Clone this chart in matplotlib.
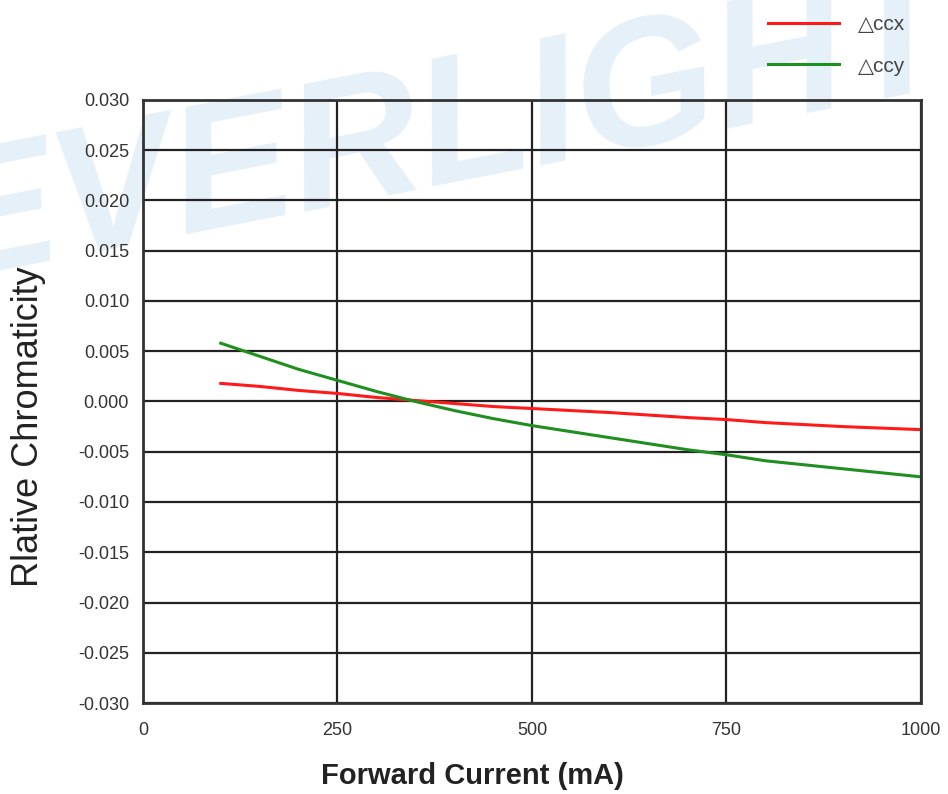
import numpy as np
import matplotlib.pyplot as plt

plt.rcParams["font.family"] = ["Liberation Sans", "DejaVu Sans"]

# forward current (mA)
current = [100, 150, 200, 250, 300, 350, 400, 450, 500, 600, 700, 750, 800, 900, 1000]
# relative chromaticity shifts
d_ccx = [0.0018, 0.0015, 0.0011, 0.0008, 0.0004, 0.0001, -0.0002, -0.0005, -0.0007,
         -0.0011, -0.0016, -0.0018, -0.0021, -0.0025, -0.0028]
d_ccy = [0.0058, 0.0045, 0.0032, 0.0021, 0.0010, 0.0000, -0.0009, -0.0017, -0.0024,
         -0.0036, -0.0048, -0.0053, -0.0059, -0.0067, -0.0075]

xticks = [0, 250, 500, 750, 1000]
yticks = np.arange(-0.030, 0.0301, 0.005)

fig = plt.figure(figsize=(9.48, 7.94), dpi=100)
ax = fig.add_axes([0.1508, 0.1146, 0.8207, 0.7595])
ax.patch.set_facecolor("none")

# watermark behind everything
fig.text(0.47, 0.83, "EVERLIGHT", fontsize=130, fontweight="bold", style="italic",
         color="#e6f0f9", rotation=11, ha="center", va="center", zorder=-1)

ax.plot(current, d_ccx, color="#ff1a1a", lw=2.2, label="\u25b3ccx")
ax.plot(current, d_ccy, color="#1f8f1f", lw=2.2, label="\u25b3ccy")

ax.set_xlim(0, 1000)
ax.set_ylim(-0.030, 0.030)
ax.set_xticks(xticks)
ax.set_yticks(yticks)
ax.set_xticklabels([str(t) for t in xticks])
ax.set_yticklabels(["%.3f" % v if abs(v) > 1e-9 else "0.000" for v in yticks])
ax.grid(True, color="#222222", lw=1.6)
ax.set_axisbelow(True)
ax.tick_params(length=0, labelsize=13, colors="#333333", pad=10)
ax.tick_params(axis="x", pad=14)
for s in ax.spines.values():
    s.set_color("#333333")
    s.set_linewidth(2)

ax.set_xlabel("Forward Current (mA)", fontsize=21, fontweight="bold", color="#222222")
ax.xaxis.set_label_coords(0.423, -0.098)
ax.set_ylabel("Rlative Chromaticity", fontsize=26, color="#222222")
ax.yaxis.set_label_coords(-0.125, 0.458)

ax.legend(loc="upper right", bbox_to_anchor=(0.99, 1.155), frameon=False, fontsize=15,
          handlelength=3.4, labelspacing=1.1, handletextpad=0.9, borderaxespad=0.0,
          labelcolor="#444444")

fig.savefig("out.png", dpi=100)
